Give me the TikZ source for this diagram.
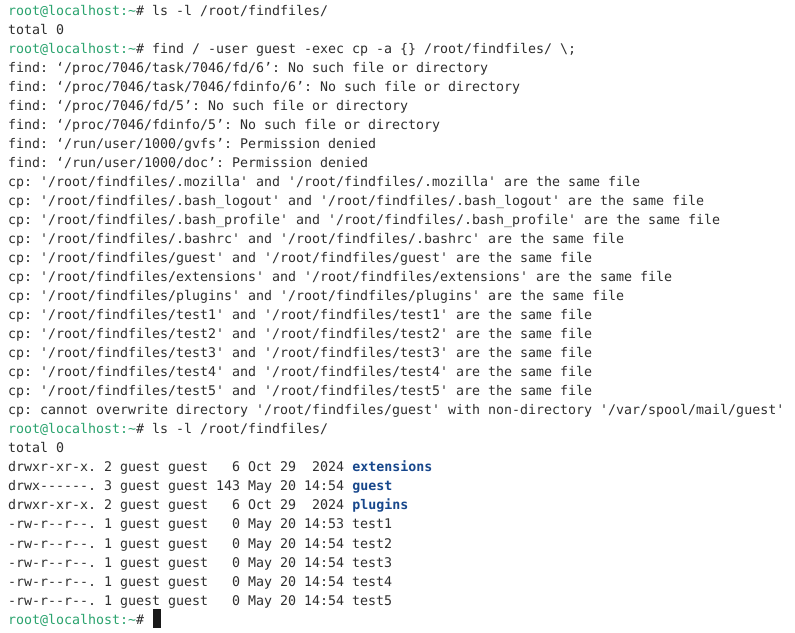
\documentclass[tikz,border=0pt]{standalone}
\usepackage{fontspec}
\setmonofont{DejaVu Sans Mono}
\definecolor{termfg}{HTML}{2E2E2E}
\definecolor{termgreen}{HTML}{2AA36E}
\definecolor{termblue}{HTML}{17478C}
\newcommand\Gp{\textcolor{termgreen}{root@localhost:\textasciitilde}\#}
\newcommand\Bd[1]{\textcolor{termblue}{\bfseries #1}}
\newcommand\tline[2]{\node[termline] (l#1) at (8, {616-19*(#1-1)}) {#2};}
\tikzset{termline/.style={anchor=base west, inner sep=0pt, text=termfg,
  font=\fontsize{13.29pt}{19pt}\selectfont\ttfamily\frenchspacing}}
\begin{document}
\begin{tikzpicture}[x=1pt,y=1pt]
\useasboundingbox (0,0) rectangle (795,632);
\fill[white] (0,0) rectangle (795,632);
\tline{1}{\Gp\ ls -l /root/findfiles/}
\tline{2}{total 0}
\tline{3}{\Gp\ find / -user guest -exec cp -a \{\} /root/findfiles/ \textbackslash;}
\tline{4}{find: ‘/proc/7046/task/7046/fd/6’: No such file or directory}
\tline{5}{find: ‘/proc/7046/task/7046/fdinfo/6’: No such file or directory}
\tline{6}{find: ‘/proc/7046/fd/5’: No such file or directory}
\tline{7}{find: ‘/proc/7046/fdinfo/5’: No such file or directory}
\tline{8}{find: ‘/run/user/1000/gvfs’: Permission denied}
\tline{9}{find: ‘/run/user/1000/doc’: Permission denied}
\tline{10}{cp: '/root/findfiles/.mozilla' and '/root/findfiles/.mozilla' are the same file}
\tline{11}{cp: '/root/findfiles/.bash\_logout' and '/root/findfiles/.bash\_logout' are the same file}
\tline{12}{cp: '/root/findfiles/.bash\_profile' and '/root/findfiles/.bash\_profile' are the same file}
\tline{13}{cp: '/root/findfiles/.bashrc' and '/root/findfiles/.bashrc' are the same file}
\tline{14}{cp: '/root/findfiles/guest' and '/root/findfiles/guest' are the same file}
\tline{15}{cp: '/root/findfiles/extensions' and '/root/findfiles/extensions' are the same file}
\tline{16}{cp: '/root/findfiles/plugins' and '/root/findfiles/plugins' are the same file}
\tline{17}{cp: '/root/findfiles/test1' and '/root/findfiles/test1' are the same file}
\tline{18}{cp: '/root/findfiles/test2' and '/root/findfiles/test2' are the same file}
\tline{19}{cp: '/root/findfiles/test3' and '/root/findfiles/test3' are the same file}
\tline{20}{cp: '/root/findfiles/test4' and '/root/findfiles/test4' are the same file}
\tline{21}{cp: '/root/findfiles/test5' and '/root/findfiles/test5' are the same file}
\tline{22}{cp: cannot overwrite directory '/root/findfiles/guest' with non-directory '/var/spool/mail/guest'}
\tline{23}{\Gp\ ls -l /root/findfiles/}
\tline{24}{total 0}
\tline{25}{drwxr-xr-x. 2 guest guest \ \ 6 Oct 29 \ 2024 \Bd{extensions}}
\tline{26}{drwx------. 3 guest guest 143 May 20 14:54 \Bd{guest}}
\tline{27}{drwxr-xr-x. 2 guest guest \ \ 6 Oct 29 \ 2024 \Bd{plugins}}
\tline{28}{-rw-r--r--. 1 guest guest \ \ 0 May 20 14:53 test1}
\tline{29}{-rw-r--r--. 1 guest guest \ \ 0 May 20 14:54 test2}
\tline{30}{-rw-r--r--. 1 guest guest \ \ 0 May 20 14:54 test3}
\tline{31}{-rw-r--r--. 1 guest guest \ \ 0 May 20 14:54 test4}
\tline{32}{-rw-r--r--. 1 guest guest \ \ 0 May 20 14:54 test5}
\tline{33}{\Gp}
\node[fill=black!90, inner sep=0pt, minimum width=8pt, minimum height=19pt, anchor=south west] (cursor) at (153,4) {};
\end{tikzpicture}
\end{document}
